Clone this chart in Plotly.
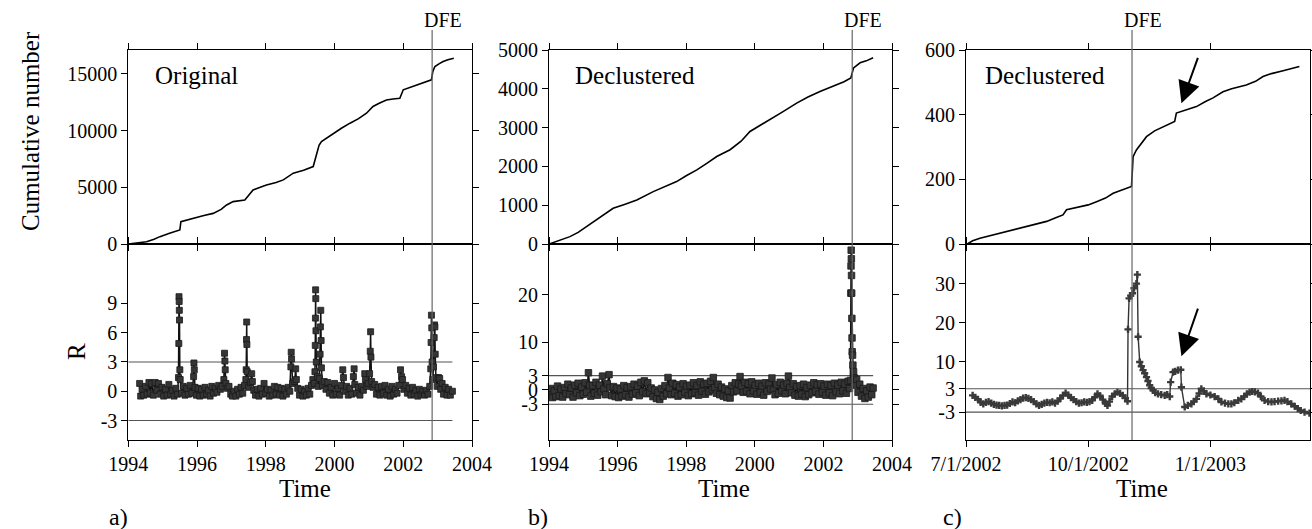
import plotly.graph_objects as go
import pandas as pd

# ---------------- data ----------------
dfe_year = 2002.84
dfe_date = "2002-11-03"
c_start = "2002-07-01"
c_end = "2003-03-17"
thresholds = [3, -3]

# panel a: original catalogue, cumulative number
cum_a_time = [1994.0, 1994.25, 1994.53, 1994.75, 1994.92, 1995.2, 1995.5, 1995.53, 1995.75, 1995.99,
              1996.2, 1996.47, 1996.7, 1996.86, 1997.05, 1997.39, 1997.5, 1997.63, 1997.8, 1998.02,
              1998.3, 1998.51, 1998.8, 1999.1, 1999.38, 1999.44, 1999.48, 1999.55, 1999.62, 1999.8,
              1999.96, 2000.2, 2000.45, 2000.7, 2000.93, 2001.12, 2001.3, 2001.51, 2001.7, 2001.9,
              2002.0, 2002.2, 2002.39, 2002.6, 2002.82, 2002.86, 2002.92, 2003.05, 2003.16, 2003.3, 2003.47]
cum_a_value = [0, 80, 200, 420, 650, 950, 1240, 1970, 2150, 2410,
               2520, 2700, 3050, 3440, 3735, 3880, 4250, 4765, 4950, 5200,
               5420, 5650, 6240, 6500, 6825, 7500, 8000, 8700, 9030, 9400,
               9765, 10200, 10650, 11050, 11530, 12120, 12400, 12700, 12780, 12850,
               13590, 13800, 14030, 14250, 14470, 15200, 15650, 15900, 16090, 16250, 16380]

# panel b: declustered catalogue, cumulative number
cum_b_time = [1994.0, 1994.3, 1994.61, 1994.85, 1995.1, 1995.5, 1995.87, 1996.2, 1996.56, 1997.04,
              1997.4, 1997.72, 1998.0, 1998.31, 1998.6, 1998.89, 1999.28, 1999.6, 1999.86, 2000.15,
              2000.44, 2000.8, 2001.22, 2001.55, 2001.9, 2002.3, 2002.6, 2002.8, 2002.84, 2002.88,
              2003.07, 2003.25, 2003.45]
cum_b_value = [0, 100, 190, 300, 450, 700, 920, 1020, 1134, 1350,
               1480, 1608, 1760, 1910, 2080, 2255, 2430, 2650, 2900, 3050,
               3200, 3400, 3630, 3790, 3930, 4080, 4180, 4280, 4430, 4540,
               4670, 4720, 4800]

# panel c: declustered, 2002-2003, cumulative number (days since c_start)
cum_c_day = [1, 5, 10.5, 20, 28, 35.6, 45, 52, 60.7, 68, 73, 75.7, 85, 92, 98.3, 105, 110.8, 118, 124.6,
             125.3, 125.8, 128.3, 132, 135.9, 142, 148.3, 153, 157.1, 158.4, 165, 173.5, 180, 186, 193.5,
             200, 211, 218, 223.6, 230, 238, 245, 251]
cum_c_value = [0, 10, 18, 28, 36, 44, 55, 62, 70, 82, 90, 106, 114, 121, 131, 142, 157, 167, 178,
               230, 270, 291, 312, 332, 350, 363, 372, 379, 405, 413, 425, 440, 452, 471,
               480, 492, 503, 518, 527, 535, 542, 549]

# panel a: R statistic
r_a_time = [1994.33, 1994.36, 1994.40, 1994.45, 1994.50, 1994.55, 1994.60, 1994.64, 1994.68, 1994.73,
            1994.78, 1994.83, 1994.88, 1994.93, 1994.98, 1995.03, 1995.08, 1995.13, 1995.18, 1995.23,
            1995.28, 1995.33, 1995.38, 1995.43, 1995.46, 1995.47, 1995.475, 1995.48, 1995.485, 1995.49,
            1995.50, 1995.51, 1995.55, 1995.60, 1995.65, 1995.70, 1995.75, 1995.80, 1995.85, 1995.90,
            1995.91, 1995.92, 1995.94, 1995.98, 1996.03, 1996.08, 1996.13, 1996.18, 1996.23, 1996.28,
            1996.33, 1996.38, 1996.43, 1996.48, 1996.53, 1996.58, 1996.63, 1996.68, 1996.73, 1996.78,
            1996.80, 1996.81, 1996.82, 1996.84, 1996.88, 1996.93, 1996.98, 1997.03, 1997.08, 1997.13,
            1997.18, 1997.23, 1997.28, 1997.33, 1997.38, 1997.42, 1997.43, 1997.44, 1997.445, 1997.45,
            1997.46, 1997.50, 1997.55, 1997.59, 1997.61, 1997.65, 1997.70, 1997.75, 1997.80, 1997.85,
            1997.90, 1997.95, 1998.00, 1998.05, 1998.10, 1998.15, 1998.20, 1998.25, 1998.30, 1998.35,
            1998.40, 1998.45, 1998.50, 1998.55, 1998.60, 1998.65, 1998.70, 1998.73, 1998.74, 1998.75,
            1998.78, 1998.84, 1998.87, 1998.89, 1998.93, 1998.98, 1999.03, 1999.08, 1999.13, 1999.18,
            1999.23, 1999.28, 1999.33, 1999.37, 1999.41, 1999.43, 1999.44, 1999.445, 1999.45, 1999.455,
            1999.46, 1999.47, 1999.50, 1999.53, 1999.56, 1999.58, 1999.59, 1999.60, 1999.61, 1999.62,
            1999.65, 1999.70, 1999.75, 1999.80, 1999.85, 1999.90, 1999.95, 2000.00, 2000.05, 2000.10,
            2000.15, 2000.20, 2000.24, 2000.26, 2000.30, 2000.35, 2000.40, 2000.45, 2000.50, 2000.55,
            2000.57, 2000.59, 2000.64, 2000.69, 2000.74, 2000.79, 2000.84, 2000.88, 2000.90, 2000.94,
            2000.98, 2001.02, 2001.04, 2001.05, 2001.06, 2001.08, 2001.12, 2001.17, 2001.22, 2001.27,
            2001.32, 2001.37, 2001.42, 2001.47, 2001.52, 2001.57, 2001.62, 2001.67, 2001.72, 2001.77,
            2001.82, 2001.87, 2001.92, 2001.95, 2001.98, 2002.02, 2002.07, 2002.12, 2002.17, 2002.22,
            2002.27, 2002.32, 2002.37, 2002.42, 2002.47, 2002.52, 2002.57, 2002.62, 2002.67, 2002.72,
            2002.77, 2002.80, 2002.81, 2002.82, 2002.83, 2002.84, 2002.86, 2002.88, 2002.90, 2002.91,
            2002.92, 2002.93, 2002.95, 2002.99, 2003.03, 2003.06, 2003.09, 2003.13, 2003.17, 2003.22,
            2003.27, 2003.32, 2003.37, 2003.43]
r_a_value = [0.8, -0.5, 0.2, -0.4, 0.5, -0.3, 0.9, -0.2, 0.8, -0.4,
             0.9, 0.1, 0.8, -0.3, 0.4, -0.5, 0.2, -0.4, 0.7, -0.3,
             0.1, -0.5, 0.3, -0.3, 1.4, 4.9, 9.7, 9.2, 8.3, 7.3,
             2.2, 1.2, -0.2, 0.5, -0.4, 0.3, -0.3, 0.6, -0.2, 1.5,
             2.9, 2.2, 0.4, -0.4, 0.3, -0.5, 0.2, -0.4, 0.4, -0.3,
             0.1, -0.5, 0.5, -0.2, 0.3, -0.1, 0.6, 0.2, 0.5, 1.2,
             3.9, 3.1, 2.2, 0.8, 0.3, 0.5, -0.3, -0.5, 0.0, -0.5,
             0.2, -0.3, 0.4, -0.2, 0.6, 1.2, 2.2, 5.3, 7.1, 4.8,
             2.0, 0.4, 0.9, 1.8, 1.0, 0.1, -0.4, 0.2, -0.5, 0.3,
             -0.3, 0.8, -0.2, 0.2, -0.5, 0.1, -0.4, 0.5, -0.3, 0.4,
             -0.4, 0.3, -0.5, 0.2, -0.3, 0.4, 0.0, 2.5, 4.0, 3.3,
             0.8, 1.0, 2.3, 1.2, 0.3, -0.4, 0.2, -0.5, 0.0, -0.4,
             0.3, -0.3, 0.6, 1.2, 0.8, 2.0, 4.7, 7.5, 10.4, 9.5,
             6.2, 3.0, 1.5, 0.5, 1.3, 3.8, 6.6, 8.3, 5.2, 2.4,
             0.6, 1.0, 0.2, 0.9, -0.2, 0.4, -0.4, 0.8, -0.3, 0.3,
             -0.4, 0.6, 2.2, 1.4, 0.0, 0.5, -0.4, 0.3, -0.3, 1.5,
             2.3, 0.7, -0.2, 0.4, -0.4, 0.5, 0.1, 1.8, 1.2, 0.5,
             0.8, 1.8, 4.1, 6.1, 3.5, 1.0, 0.4, 0.7, -0.3, 0.4,
             -0.4, 0.5, -0.2, 0.6, -0.4, 0.2, -0.5, 0.5, -0.3, 0.2,
             -0.2, 0.6, 2.2, 1.5, 1.2, 0.2, 0.6, -0.2, 0.3, -0.4,
             0.4, -0.3, 0.1, -0.5, 0.2, -0.3, 0.0, -0.4, 0.1, -0.3,
             0.5, 2.3, 5.0, 7.8, 6.5, 3.0, 1.2, 2.5, 5.5, 6.8,
             6.6, 3.8, 1.4, 0.5, 1.4, 1.3, 0.2, 0.8, -0.3, 0.4,
             -0.4, 0.2, -0.4, 0.0]

# panel b: R statistic
r_b_time = [1994.00, 1994.05, 1994.10, 1994.15, 1994.20, 1994.25, 1994.30, 1994.35, 1994.40, 1994.45,
            1994.50, 1994.55, 1994.60, 1994.65, 1994.70, 1994.75, 1994.80, 1994.85, 1994.90, 1994.95,
            1995.00, 1995.05, 1995.10, 1995.15, 1995.18, 1995.22, 1995.27, 1995.32, 1995.37, 1995.42,
            1995.47, 1995.52, 1995.56, 1995.60, 1995.65, 1995.70, 1995.75, 1995.78, 1995.83, 1995.88,
            1995.93, 1995.98, 1996.03, 1996.08, 1996.13, 1996.18, 1996.23, 1996.28, 1996.33, 1996.38,
            1996.43, 1996.48, 1996.53, 1996.58, 1996.63, 1996.68, 1996.73, 1996.78, 1996.83, 1996.88,
            1996.93, 1996.98, 1997.03, 1997.08, 1997.13, 1997.18, 1997.23, 1997.28, 1997.33, 1997.38,
            1997.43, 1997.47, 1997.51, 1997.56, 1997.61, 1997.66, 1997.71, 1997.76, 1997.81, 1997.86,
            1997.91, 1997.96, 1998.01, 1998.06, 1998.11, 1998.16, 1998.21, 1998.26, 1998.31, 1998.36,
            1998.41, 1998.46, 1998.51, 1998.56, 1998.61, 1998.66, 1998.71, 1998.76, 1998.79, 1998.83,
            1998.88, 1998.93, 1998.98, 1999.03, 1999.08, 1999.13, 1999.18, 1999.23, 1999.28, 1999.33,
            1999.38, 1999.43, 1999.48, 1999.53, 1999.57, 1999.61, 1999.66, 1999.71, 1999.76, 1999.81,
            1999.86, 1999.91, 1999.96, 2000.01, 2000.06, 2000.11, 2000.16, 2000.21, 2000.26, 2000.31,
            2000.36, 2000.41, 2000.46, 2000.50, 2000.54, 2000.59, 2000.64, 2000.69, 2000.74, 2000.79,
            2000.84, 2000.89, 2000.94, 2000.98, 2001.02, 2001.07, 2001.12, 2001.17, 2001.22, 2001.27,
            2001.32, 2001.37, 2001.42, 2001.47, 2001.52, 2001.57, 2001.62, 2001.67, 2001.72, 2001.77,
            2001.82, 2001.87, 2001.92, 2001.97, 2002.02, 2002.07, 2002.12, 2002.17, 2002.22, 2002.27,
            2002.32, 2002.37, 2002.42, 2002.47, 2002.52, 2002.57, 2002.62, 2002.67, 2002.72, 2002.76,
            2002.79, 2002.80, 2002.805, 2002.81, 2002.815, 2002.82, 2002.825, 2002.83, 2002.835, 2002.84,
            2002.85, 2002.86, 2002.88, 2002.90, 2002.93, 2002.97, 2003.01, 2003.06, 2003.11, 2003.16,
            2003.21, 2003.26, 2003.31, 2003.36, 2003.41, 2003.45]
r_b_value = [-1.0, 0.3, -1.6, -0.2, -1.4, 0.8, -1.2, 0.2, -1.5, 0.5,
             -0.8, 1.2, -1.0, 0.4, -1.5, 1.0, -0.6, 1.4, -1.2, 0.6,
             -0.9, 1.5, -0.5, 3.6, 1.0, -1.3, 0.9, -0.7, 1.6, -1.1,
             1.0, -0.4, 2.9, 0.2, -1.0, 1.3, 3.2, 0.5, -1.2, 0.7,
             -1.4, 0.4, -1.6, 0.2, -1.3, 0.9, -1.0, 0.5, -1.5, 0.7,
             -0.9, 1.2, -0.6, 0.8, -1.2, 1.6, -0.4, 1.9, -0.8, 1.5,
             -0.6, 0.4, -1.4, 0.0, -1.8, -0.5, -2.0, 0.3, -1.3, 0.9,
             -0.8, 2.6, 0.4, -1.0, 1.4, -0.7, 1.1, -1.3, 0.6, -1.0,
             1.3, -0.5, 0.8, -1.2, 1.0, -0.8, 1.5, -0.6, 0.9, -1.1,
             1.7, -0.3, 1.2, -0.9, 1.4, -0.4, 1.8, 0.0, 2.6, 0.5,
             -0.7, 1.2, -1.0, 0.6, -1.3, 0.2, -1.6, -0.2, -1.7, 0.9,
             -0.4, 1.5, -0.2, 1.2, 2.8, 0.8, -0.5, 1.6, -0.3, 1.3,
             -0.8, 1.7, -0.2, 1.0, -0.9, 1.4, -0.5, 0.8, -1.1, 1.5,
             -0.3, 1.2, 0.2, 2.5, 0.0, -1.0, 1.1, -0.7, 1.6, -0.2,
             1.0, -0.8, 1.4, 2.9, 0.5, -0.6, 1.3, -1.1, 0.7, -1.3,
             0.9, -0.9, 1.2, -1.4, 0.5, -1.0, 1.0, -0.6, 1.5, -0.3,
             1.1, -0.9, 1.3, -0.5, 0.8, -1.1, 1.2, -0.6, 0.9, -1.2,
             1.4, -0.4, 1.0, -0.8, 1.6, -0.2, 1.2, -0.7, 1.8, 0.3,
             2.0, 20.3, 26.0, 29.3, 27.5, 24.0, 20.3, 15.0, 10.9, 8.0,
             7.3, 5.2, 3.8, 2.5, 1.0, 2.2, -0.5, 1.2, -1.3, 0.3,
             -1.8, -0.2, -1.5, 0.6, -1.0, 0.4]

# panel c: R statistic (days since c_start)
r_c_day = [5, 7, 9, 11, 13, 15, 17, 19, 21, 23, 25, 27, 29, 31, 33, 35, 37, 39, 41, 43,
           45, 47, 49, 51, 53, 55, 57, 59, 61, 63, 65, 67, 69, 71, 73, 75, 77, 79, 81, 83,
           85, 87, 89, 91, 93, 95, 97, 99, 101, 103, 105, 106.5, 108, 110, 112, 114, 116, 118, 120, 121.6,
           122, 122.8, 124, 125.3, 126.5, 128.3, 129, 129.6, 130.8, 132, 133.3, 134.5, 135.9, 137, 138.3, 139.5,
           140.8, 142.5, 144.6, 147, 149.6, 151.5, 153.4, 154.1, 155.9, 157.5, 159.6, 161.7, 162.2, 164.7,
           167, 169.7, 171.5, 173.5, 175.5, 177.2, 179, 181, 184, 187.2, 190, 192.3, 195, 197.5, 199.8,
           202, 205, 207.3, 209.5, 211.5, 213.5, 215.5, 217.5, 219.8, 222, 224.8, 227.5, 230, 232.3, 235,
           237.5, 239.8, 242, 244.9, 247.5, 249.8, 252, 254.9, 258.6]
r_c_value = [1.3, 0.8, 0.3, -0.5, -0.9, -0.5, -0.3, -0.7, -1.0, -1.2, -1.3, -1.4, -1.3, -1.2, -0.8, -0.4, -0.6, -0.1, 0.2, 0.6,
             0.7, 0.5, 0.2, -0.3, -0.9, -1.3, -1.0, -0.7, -0.5, -0.6, -0.4, -0.7, -0.2, 0.5, 1.3, 1.9, 1.4, 0.7, 0.2, -0.3,
             -0.7, -0.6, -0.4, -0.5, -0.3, 0.0, 0.8, 1.7, 1.2, 0.2, -0.8, -1.3, -0.3, 1.0, 1.7, 2.1, 1.8, 1.3, 0.6, -0.2,
             18.3, 26.3, 27.0, 27.6, 28.9, 30.1, 32.4, 16.4, 9.9, 8.8, 7.8, 7.0, 6.0, 5.0, 3.9, 3.2,
             2.6, 2.0, 1.7, 1.5, 1.3, 1.5, 1.0, 4.7, 7.3, 7.5, 7.8, 7.9, 3.4, -1.7,
             -1.3, -0.9, -0.3, 0.4, 1.8, 3.0, 2.4, 1.7, 1.4, 1.0, 0.4, -0.4, -0.7, -0.9, -0.9,
             -0.6, 0.0, 0.4, 1.0, 1.7, 2.1, 2.3, 2.2, 1.9, 1.0, 0.0, -0.3, -0.4, -0.3, -0.2,
             -0.1, 0.0, -0.3, -0.9, -1.5, -2.1, -2.6, -3.0, -3.3]

# tick labels
year_ticks = [1994, 1996, 1998, 2000, 2002, 2004]
c_tick_dates = ["2002-07-01", "2002-10-01", "2003-01-01"]
c_tick_text = ["7/1/2002", "10/1/2002", "1/1/2003"]
cum_a_ticks = [0, 5000, 10000, 15000]
cum_b_ticks = [0, 1000, 2000, 3000, 4000, 5000]
cum_c_ticks = [0, 200, 400, 600]
r_a_ticks = [-3, 0, 3, 6, 9]
r_b_ticks = [-3, 0, 3, 10, 20]
r_c_ticks = [-3, 3, 10, 20, 30]
panel_names = ["Original", "Declustered", "Declustered"]
panel_letters = ["a)", "b)", "c)"]

# ---------------- figure ----------------
W, H = 1312, 529
FONT = "Liberation Serif, Times New Roman, DejaVu Serif, serif"
def px(x):
    return x / W
def py(y):
    return 1 - y / H

base = pd.Timestamp(c_start)
cum_c_time = [base + pd.Timedelta(days=d) for d in cum_c_day]
r_c_time = [base + pd.Timedelta(days=d) for d in r_c_day]

fig = go.Figure()
line_kw = dict(color="black", width=1.6)

fig.add_trace(go.Scatter(x=cum_a_time, y=cum_a_value, mode="lines", line=line_kw, xaxis="x", yaxis="y"))
fig.add_trace(go.Scatter(x=cum_b_time, y=cum_b_value, mode="lines", line=line_kw, xaxis="x3", yaxis="y3"))
fig.add_trace(go.Scatter(x=cum_c_time, y=cum_c_value, mode="lines", line=line_kw, xaxis="x5", yaxis="y5"))

thr_kw = dict(color="#555555", width=1.2)
for t in thresholds:
    fig.add_trace(go.Scatter(x=[year_ticks[0], r_a_time[-1]], y=[t, t], mode="lines", line=thr_kw, xaxis="x2", yaxis="y2"))
    fig.add_trace(go.Scatter(x=[year_ticks[0], r_b_time[-1]], y=[t, t], mode="lines", line=thr_kw, xaxis="x4", yaxis="y4"))
    fig.add_trace(go.Scatter(x=[c_start, c_end], y=[t, t], mode="lines", line=thr_kw, xaxis="x6", yaxis="y6"))

mk = dict(symbol="square", size=6, color="#353535", line=dict(color="#1a1a1a", width=0.8))
fig.add_trace(go.Scatter(x=r_a_time, y=r_a_value, mode="lines+markers", line=dict(color="#111111", width=1.5),
                         marker=mk, xaxis="x2", yaxis="y2"))
fig.add_trace(go.Scatter(x=r_b_time, y=r_b_value, mode="lines+markers", line=dict(color="#111111", width=1.6),
                         marker=dict(mk, size=6.5), xaxis="x4", yaxis="y4"))
fig.add_trace(go.Scatter(x=r_c_time, y=r_c_value, mode="lines+markers", line=dict(color="#333333", width=1.4),
                         marker=dict(symbol="cross", size=6, color="#3a3a3a"), xaxis="x6", yaxis="y6"))

xdom = [[px(128.3), px(472)], [px(549), px(892)], [px(966), px(1310)]]
ytop = [py(244), py(50)]
ybot = [py(440), py(244)]

tick_font = dict(family=FONT, size=20, color="black")
common = dict(showline=True, linecolor="black", linewidth=1, mirror="ticks", ticks="outside",
              ticklen=6, tickcolor="black", tickwidth=1, showgrid=False, zeroline=False,
              tickfont=tick_font, automargin=False)

yranges_top = [[0, 17100], [0, 5000], [0, 600]]
yranges_bot = [[-5, 15.1], [-10.5, 30.6], [-10.2, 40.3]]
top_ticks = [cum_a_ticks, cum_b_ticks, cum_c_ticks]
bot_ticks = [r_a_ticks, r_b_ticks, r_c_ticks]

layout = {}
for i in range(3):
    xt = "xaxis" if i == 0 else f"xaxis{2*i+1}"
    xb = f"xaxis{2*i+2}"
    yt = "yaxis" if i == 0 else f"yaxis{2*i+1}"
    yb = f"yaxis{2*i+2}"
    xid_t = "x" if i == 0 else f"x{2*i+1}"
    xid_b = f"x{2*i+2}"
    yid_t = "y" if i == 0 else f"y{2*i+1}"
    yid_b = f"y{2*i+2}"
    if i < 2:
        xr = [year_ticks[0], year_ticks[-1]]
        xtv, xtt = year_ticks, [str(v) for v in year_ticks]
        xtype = "linear"
    else:
        xr = [c_start, c_end]
        xtv, xtt = c_tick_dates, c_tick_text
        xtype = "date"
    layout[xt] = dict(common, domain=xdom[i], anchor=yid_t, range=xr, type=xtype,
                      tickvals=xtv, ticktext=xtt, showticklabels=False)
    layout[xb] = dict(common, domain=xdom[i], anchor=yid_b, range=xr, type=xtype,
                      tickvals=xtv, ticktext=xtt, showticklabels=True)
    layout[yt] = dict(common, domain=ytop, anchor=xid_t, range=yranges_top[i],
                      tickvals=top_ticks[i], ticktext=[str(v) for v in top_ticks[i]])
    layout[yb] = dict(common, domain=ybot, anchor=xid_b, range=yranges_bot[i],
                      tickvals=bot_ticks[i], ticktext=[str(v) for v in bot_ticks[i]])

shapes = []
dfe_x = [dfe_year, dfe_year, dfe_date]
top_x_ids = ["x", "x3", "x5"]
for i in range(3):
    shapes.append(dict(type="line", xref=top_x_ids[i], yref="paper", x0=dfe_x[i], x1=dfe_x[i],
                       y0=py(440), y1=py(30), line=dict(color="#666666", width=1.2)))

ann = []
title_font = dict(family=FONT, size=25, color="black")
ann.append(dict(text="Cumulative number", x=px(30), y=py(131), xref="paper", yref="paper",
                textangle=-90, showarrow=False, font=title_font, xanchor="center", yanchor="middle"))
ann.append(dict(text="R", x=px(76), y=py(352), xref="paper", yref="paper",
                textangle=-90, showarrow=False, font=title_font, xanchor="center", yanchor="middle"))
time_x = [305, 724, 1142]
letter_x = [118, 538, 953]
name_x = [153, 573, 983]
for i in range(3):
    ann.append(dict(text="Time", x=px(time_x[i]), y=py(488), xref="paper", yref="paper",
                    showarrow=False, font=title_font, xanchor="center", yanchor="middle"))
    ann.append(dict(text=panel_letters[i], x=px(letter_x[i]), y=py(517), xref="paper", yref="paper",
                    showarrow=False, font=dict(family=FONT, size=24, color="black"),
                    xanchor="center", yanchor="middle"))
    ann.append(dict(text=panel_names[i], x=px(name_x[i]), y=py(75), xref="paper", yref="paper",
                    showarrow=False, font=title_font, xanchor="left", yanchor="middle"))
    ann.append(dict(text="DFE", x=dfe_x[i], xref=top_x_ids[i], y=py(20), yref="paper", xshift=11,
                    showarrow=False, font=dict(family=FONT, size=20, color="black"),
                    xanchor="center", yanchor="middle"))

arrow_day = 162.2
arrow_date = base + pd.Timedelta(days=arrow_day)
ann.append(dict(text="", x=arrow_date, y=435, xref="x5", yref="y5", showarrow=True,
                ax=17, ay=-47, arrowhead=2, arrowsize=2.2, arrowwidth=2, arrowcolor="black"))
ann.append(dict(text="", x=arrow_date, y=11.4, xref="x6", yref="y6", showarrow=True,
                ax=17, ay=-49, arrowhead=2, arrowsize=2.2, arrowwidth=2, arrowcolor="black"))

fig.update_layout(width=W, height=H, margin=dict(l=0, r=0, t=0, b=0, pad=0), showlegend=False,
                  paper_bgcolor="white", plot_bgcolor="white", font=dict(family=FONT, color="black"),
                  shapes=shapes, annotations=ann, **layout)

fig.write_html("out.html")
